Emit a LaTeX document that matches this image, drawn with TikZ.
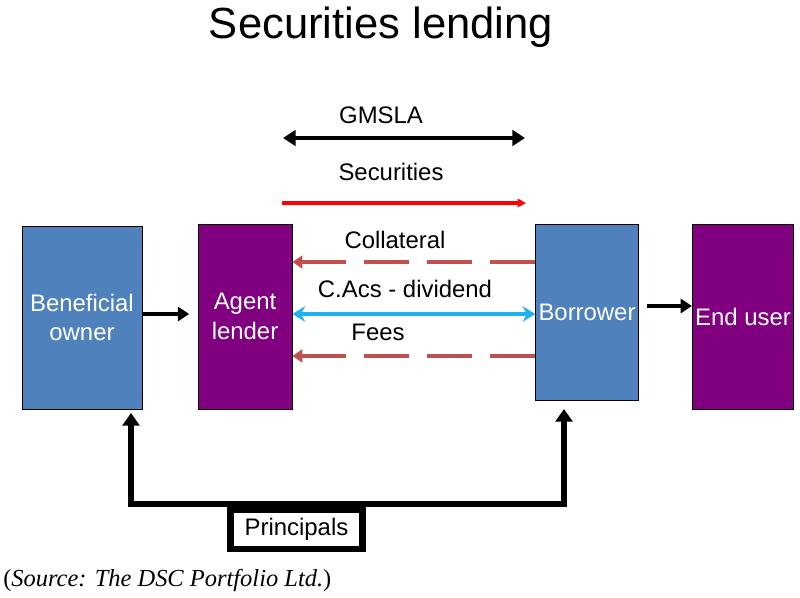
\documentclass[tikz,border=0pt]{standalone}
\usepackage{fontspec}
\setmainfont{Liberation Serif}
\setsansfont{Liberation Sans}
\usetikzlibrary{arrows.meta,calc}
\definecolor{ownerBlue}{HTML}{4F81BD}
\definecolor{agentPurple}{HTML}{800080}
\definecolor{collRed}{HTML}{C0504D}
\definecolor{divCyan}{HTML}{1FB2F0}
\tikzset{
  partybox/.style={rectangle, draw=black, line width=0.6pt, fill=#1, text=white, align=center, font=\sffamily\fontsize{17}{21}\selectfont, inner sep=2pt},
  flowlabel/.style={font=\sffamily\fontsize{17}{20}\selectfont, inner sep=1pt},
  boldarrow/.style={-{Triangle[length=8pt,width=10pt]}, line width=2.8pt},
  dasharrow/.style={-{Triangle[length=7pt,width=9pt]}, line width=2.8pt, draw=collRed, dash pattern=on 32pt off 12.8pt},
  principalbox/.style={rectangle, draw=black, line width=4.5pt, fill=white, font=\sffamily\fontsize{17}{20}\selectfont, minimum width=3.3cm, minimum height=0.98cm},
}
\begin{document}
\begin{tikzpicture}[x=0.025cm,y=-0.025cm]
  \useasboundingbox (0,0) rectangle (800,597);

  \node[font=\sffamily\fontsize{31}{36}\selectfont] (title) at (381,27) {Securities lending};

  % parties
  \node[partybox=ownerBlue, minimum width=3cm, minimum height=4.575cm] (ben) at (82,317.5) {Beneficial\\owner};
  \node[partybox=agentPurple, minimum width=2.35cm, minimum height=4.625cm] (agent) at (245,316.5) {Agent\\lender};
  \node[partybox=ownerBlue, minimum width=2.55cm, minimum height=4.4cm] (bor) at (587,312) {Borrower};
  \node[partybox=agentPurple, minimum width=2.45cm, minimum height=4.625cm] (enduser) at (743,316.5) {End user};

  % flow labels
  \node[flowlabel] (gmsla) at (381,115) {GMSLA};
  \node[flowlabel] (secs) at (391,172) {Securities};
  \node[flowlabel] (coll) at (395,240) {Collateral};
  \node[flowlabel] (cacs) at (405,289) {C.Acs - dividend};
  \node[flowlabel] (fees) at (378,332) {Fees};

  \coordinate (gmslaL) at (283,138);
  \coordinate (gmslaR) at (525,138);
  \coordinate (secsL) at (282,203);
  \coordinate (secsR) at (526,203);
  \coordinate (collY) at (0,262);
  \coordinate (cacsY) at (0,314);
  \coordinate (feesY) at (0,356);
  \coordinate (handY) at (0,314);
  \coordinate (sellY) at (0,306);

  \draw[boldarrow, line width=2.6pt, {Triangle[length=9pt,width=11pt]}-{Triangle[length=9pt,width=11pt]}] (gmslaL) -- (gmslaR);
  \draw[-{Triangle[length=6pt,width=6pt]}, line width=2.4pt, draw=red] (secsL) -- (secsR);
  \draw[dasharrow] (bor.west |- collY) -- (agent.east |- collY);
  \draw[{Stealth[length=9pt,width=11pt]}-{Stealth[length=9pt,width=11pt]}, line width=2.6pt, draw=divCyan] (agent.east |- cacsY) -- (bor.west |- cacsY);
  \draw[dasharrow] (bor.west |- feesY) -- (agent.east |- feesY);

  \draw[boldarrow, shorten >=6pt] (ben.east |- handY) -- (agent.west |- handY);
  \draw[boldarrow, shorten <=6pt] (bor.east |- sellY) -- (enduser.west |- sellY);

  % principals loop
  \node[principalbox] (prin) at (296.5,529.5) {Principals};
  \coordinate (benIn) at (131,413);
  \coordinate (borIn) at (564,409);
  \draw[line width=4.5pt, {Triangle[length=9pt,width=12pt]}-{Triangle[length=9pt,width=12pt]}] (benIn) |- ($(prin.north)+(0,-3)$) -| (borIn);

  \node[anchor=west, font=\fontsize{17.4}{20}\selectfont, inner sep=0pt] (source) at (3,580) {(\textit{Source: The DSC Portfolio Ltd.})};
\end{tikzpicture}
\end{document}
